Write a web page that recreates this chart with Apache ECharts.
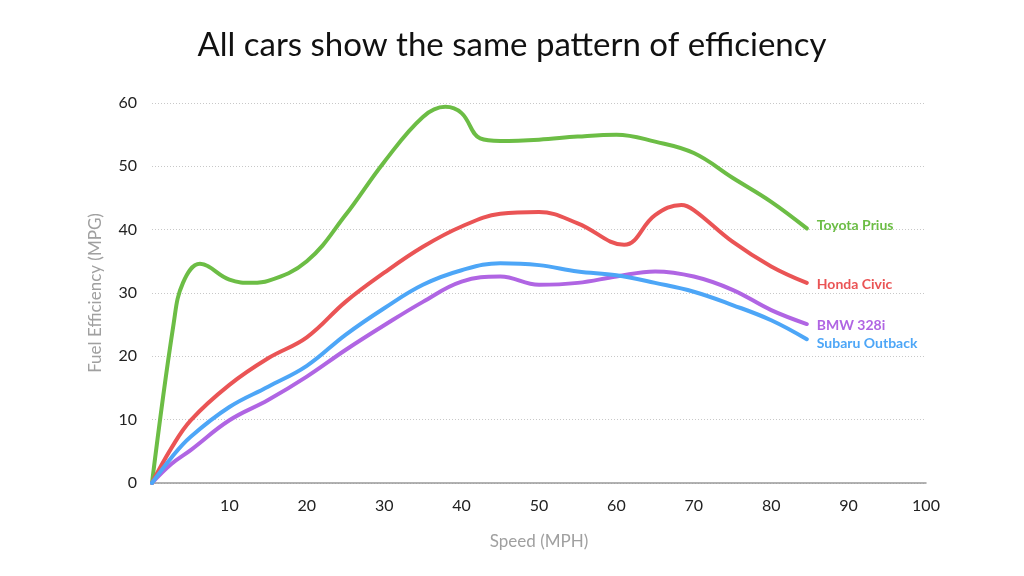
<!DOCTYPE html>
<html>
<head>
<meta charset="utf-8">
<script src="https://cdn.jsdelivr.net/npm/echarts@6/dist/echarts.min.js"></script>
<style>html,body{margin:0;padding:0;background:#fff;}#c{width:1024px;height:576px;}</style>
</head>
<body>
<div id="c"></div>
<script>
const seriesNames = ['Toyota Prius', 'Honda Civic', 'BMW 328i', 'Subaru Outback'];
const xTicks = [0, 10, 20, 30, 40, 50, 60, 70, 80, 90, 100];
const yTicks = [0, 10, 20, 30, 40, 50, 60];

// [speed (MPH), fuel efficiency (MPG)]
const priusData = [[0,0],[2.8,25.2],[4,31.6],[6.2,34.6],[10,32.1],[13,31.6],[15,31.9],[20,35],[25,42.3],[30,50.7],[35,57.8],[37.9,59.4],[40,58.4],[42.4,54.4],[45,54],[50,54.2],[55,54.7],[60,55],[65,53.9],[70,52.1],[75,48.2],[80,44.4],[84.6,40.2]];
const civicData = [[0,0],[2.5,5.5],[5,9.9],[10,15.5],[15,19.7],[20,23],[25,28.6],[30,33.2],[35,37.3],[40,40.5],[45,42.5],[50,42.8],[55,41],[61,37.6],[65,42.3],[68.4,43.9],[70,43.1],[75,38.1],[80,34.2],[84.6,31.6]];
const bmwData = [[0,0],[2.5,3],[5,5.2],[10,9.9],[15,13.1],[20,16.8],[25,21],[30,24.9],[35,28.6],[40,31.8],[45,32.6],[50,31.3],[55,31.6],[60,32.6],[65,33.4],[70,32.6],[75,30.5],[80,27.3],[84.6,25.1]];
const subaruData = [[0,0],[2.5,4],[5,7.3],[10,12],[15,15.2],[20,18.5],[25,23.4],[30,27.6],[35,31.3],[40,33.6],[45,34.7],[50,34.4],[55,33.4],[60,32.8],[65,31.6],[70,30.2],[75,28.1],[80,25.7],[84.6,22.7]];

const colors = ['#6cbd45', '#ea5455', '#b065e3', '#4da6f7'];
const labelOffsets = [[0,-3],[0,2],[0,1],[0,4]];
const datasets = [priusData, civicData, bmwData, subaruData];

const chart = echarts.init(document.getElementById('c'));
const font = 'Lato, "Open Sans", sans-serif';
chart.setOption({
  animation: false,
  title: {
    text: 'All cars show the same pattern of efficiency',
    left: 'center', top: 24,
    textStyle: { fontFamily: font, fontSize: 33, fontWeight: 'normal', color: '#111' }
  },
  grid: { left: 152, right: 98, top: 103, bottom: 93 },
  xAxis: {
    type: 'value', min: 0, max: 100, interval: 10,
    name: 'Speed (MPH)', nameLocation: 'middle', nameGap: 50,
    nameTextStyle: { fontFamily: font, fontSize: 17, color: '#a0a0a0' },
    axisLine: { show: true, lineStyle: { color: '#999', width: 1.5 } },
    axisTick: { show: false },
    splitLine: { show: false },
    axisLabel: {
      fontFamily: font, fontSize: 16, color: '#222', margin: 15,
      formatter: v => (v === 0 ? '' : String(xTicks[xTicks.indexOf(v)]))
    }
  },
  yAxis: {
    type: 'value', min: 0, max: 60, interval: 10,
    name: 'Fuel Efficiency (MPG)', nameLocation: 'middle', nameGap: 48,
    nameTextStyle: { fontFamily: font, fontSize: 17, color: '#a0a0a0' },
    axisLine: { show: false },
    axisTick: { show: false },
    splitLine: { show: true, lineStyle: { color: '#c8c8c8', type: [1, 2], width: 1 } },
    axisLabel: {
      fontFamily: font, fontSize: 16, color: '#222', margin: 15,
      formatter: v => String(yTicks[yTicks.indexOf(v)])
    }
  },
  series: seriesNames.map((n, i) => ({
    name: n, type: 'line', data: datasets[i], smooth: 0.4,
    showSymbol: false, symbol: 'none',
    lineStyle: { color: colors[i], width: 4, cap: 'round', join: 'round' },
    itemStyle: { color: colors[i] },
    endLabel: {
      show: true, formatter: '{a}', distance: 10, offset: labelOffsets[i],
      color: colors[i], fontFamily: font, fontSize: 14, fontWeight: 'bold'
    }
  }))
});
</script>
</body>
</html>
